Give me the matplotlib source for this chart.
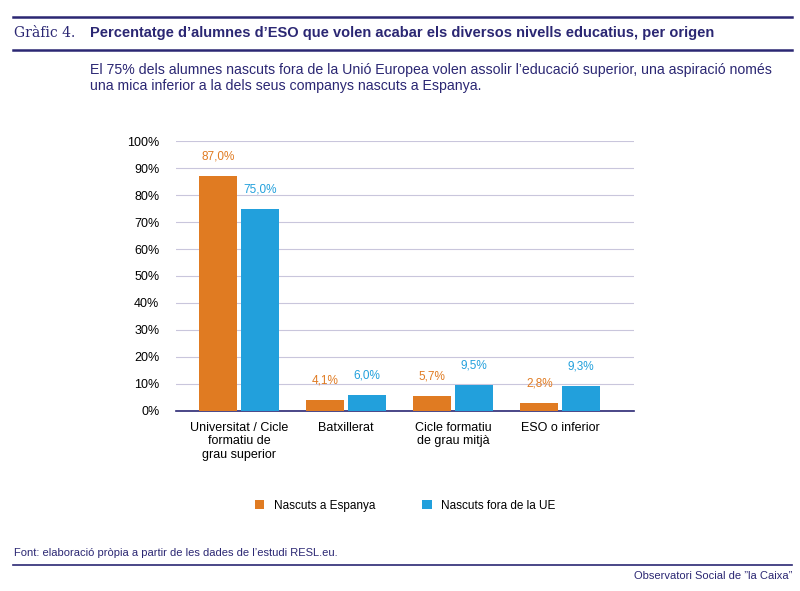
import matplotlib.pyplot as plt
import numpy as np

categories = ["Universitat / Cicle\nformatiu de\ngrau superior", "Batxillerat",
              "Cicle formatiu\nde grau mitjà", "ESO o inferior"]
espanya = [87.0, 4.1, 5.7, 2.8]
fora_ue = [75.0, 6.0, 9.5, 9.3]

NAVY = "#2b2773"
ORANGE = "#e07b22"
BLUE = "#22a0dc"
plt.rcParams["font.family"] = ["Liberation Sans", "DejaVu Sans"]

fig = plt.figure(figsize=(8, 5.91), dpi=100)

# header lines and titles
for y in (0.971, 0.915):
    fig.add_artist(plt.Line2D([0.016, 0.99], [y, y], color=NAVY, lw=1.8))
fig.add_artist(plt.Line2D([0.016, 0.99], [0.044, 0.044], color=NAVY, lw=1.2))
fig.text(0.018, 0.944, "Gràfic 4.", family="DejaVu Serif", fontsize=10, color=NAVY, va="center")
fig.text(0.112, 0.944, "Percentatge d’alumnes d’ESO que volen acabar els diversos nivells educatius, per origen",
         fontsize=10.5, weight="bold", color=NAVY, va="center")
fig.text(0.112, 0.882, "El 75% dels alumnes nascuts fora de la Unió Europea volen assolir l’educació superior, una aspiració només",
         fontsize=10.2, color=NAVY, va="center")
fig.text(0.112, 0.854, "una mica inferior a la dels seus companys nascuts a Espanya.",
         fontsize=10.2, color=NAVY, va="center")
fig.text(0.018, 0.064, "Font: elaboració pròpia a partir de les dades de l’estudi RESL.eu.",
         fontsize=8, color=NAVY, va="center")
fig.text(0.99, 0.025, "Observatori Social de \u201dla Caixa\u201d", fontsize=8, color=NAVY, va="center", ha="right")

ax = fig.add_axes([0.22, 0.3046, 0.5725, 0.4568])
x = np.arange(len(categories))
w = 0.355
off = 0.195
ax.bar(x - off, espanya, w, color=ORANGE, label="Nascuts a Espanya", zorder=3)
ax.bar(x + off, fora_ue, w, color=BLUE, label="Nascuts fora de la UE", zorder=3)
for xi, v in zip(x, espanya):
    ax.text(xi - off, v + 5, f"{v:.1f}%".replace(".", ","), ha="center", va="bottom", fontsize=8.5, color=ORANGE)
for xi, v in zip(x, fora_ue):
    ax.text(xi + off, v + 5, f"{v:.1f}%".replace(".", ","), ha="center", va="bottom", fontsize=8.5, color=BLUE)

ax.set_xlim(-0.59, 3.69)
ax.set_ylim(0, 100)
ax.set_yticks(np.arange(0, 101, 10))
ax.set_yticklabels([f"{t}%" for t in range(0, 101, 10)], fontsize=9)
ax.set_xticks(x)
ax.set_xticklabels(categories, fontsize=9, linespacing=1.15)
ax.grid(axis="y", color="#c9c6dc", lw=0.8, zorder=0)
for s in ("top", "right", "left"):
    ax.spines[s].set_visible(False)
ax.spines["bottom"].set_color(NAVY)
ax.spines["bottom"].set_linewidth(1.2)
ax.tick_params(length=0, pad=8)
ax.tick_params(axis="y", pad=12)
ax.legend(loc="upper center", bbox_to_anchor=(0.5, -0.29), ncol=2, frameon=False,
          fontsize=8.5, handlelength=0.8, handleheight=0.8, columnspacing=4)

fig.savefig("out.png", dpi=100)
